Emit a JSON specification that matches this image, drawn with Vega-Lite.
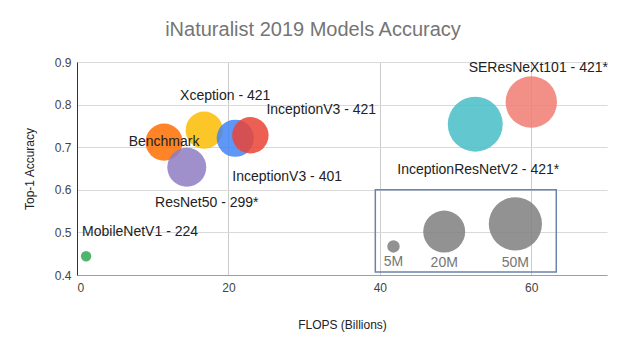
{
  "$schema": "https://vega.github.io/schema/vega-lite/v6.json",
  "width": 530,
  "height": 213,
  "autosize": {"type": "none"},
  "padding": {"left": 77, "top": 62, "right": 17, "bottom": 69},
  "background": "white",
  "config": {
    "font": "Liberation Sans",
    "view": {"stroke": null}
  },
  "title": {
    "text": "iNaturalist 2019 Models Accuracy",
    "fontSize": 20,
    "fontWeight": "normal",
    "color": "#757575",
    "font": "Liberation Sans",
    "anchor": "middle",
    "dx": -29,
    "baseline": "alphabetic",
    "offset": 0
  },
  "datasets": {
    "models": [
      {"name": "Benchmark", "flops": 11.5, "acc": 0.712, "params": 14.4},
      {"name": "Xception - 421", "flops": 16.8, "acc": 0.740, "params": 14.4},
      {"name": "ResNet50 - 299*", "flops": 14.5, "acc": 0.653, "params": 16.2},
      {"name": "InceptionV3 - 401", "flops": 20.9, "acc": 0.721, "params": 14.4},
      {"name": "InceptionV3 - 421", "flops": 22.9, "acc": 0.728, "params": 13.7},
      {"name": "InceptionResNetV2 - 421*", "flops": 52.6, "acc": 0.754, "params": 59.0},
      {"name": "SEResNeXt101 - 421*", "flops": 60.0, "acc": 0.806, "params": 42.6},
      {"name": "MobileNetV1 - 224", "flops": 1.2, "acc": 0.444, "params": 4.8}
    ],
    "sizes": [
      {"label": "5M", "flops": 41.8, "acc": 0.467, "params": 5},
      {"label": "20M", "flops": 48.5, "acc": 0.502, "params": 20},
      {"label": "50M", "flops": 57.9, "acc": 0.520, "params": 50}
    ],
    "box": [
      {"x0": 39.4, "x1": 63.3, "y0": 0.407, "y1": 0.6}
    ]
  },
  "layer": [
    {
      "data": {"name": "box"},
      "mark": {"type": "rect", "fill": null, "stroke": "#6b83ad", "strokeWidth": 1.5},
      "encoding": {
        "x": {
          "field": "x0", "type": "quantitative",
          "scale": {"domain": [0, 70], "nice": false, "zero": false},
          "axis": {
            "values": [0, 20, 40, 60],
            "title": "FLOPS (Billions)",
            "titleFontSize": 12,
            "titleFontWeight": "normal",
            "titleColor": "#222222",
            "titlePadding": 26,
            "labelFontSize": 12,
            "labelColor": "#444444",
            "labelPadding": 7,
            "ticks": false,
            "domainColor": "#9e9e9e",
            "gridColor": "#cccccc",
            "grid": true
          }
        },
        "x2": {"field": "x1"},
        "y": {
          "field": "y0", "type": "quantitative",
          "scale": {"domain": [0.4, 0.9], "nice": false, "zero": false},
          "axis": {
            "values": [0.4, 0.45, 0.5, 0.55, 0.6, 0.65, 0.7, 0.75, 0.8, 0.85, 0.9],
            "labelExpr": "round(datum.value * 100) % 10 == 0 ? format(datum.value, '.1f') : ''",
            "title": "Top-1 Accuracy",
            "titleFontSize": 12,
            "titleFontWeight": "normal",
            "titleColor": "#222222",
            "titlePadding": 18,
            "labelFontSize": 12,
            "labelColor": "#444444",
            "labelPadding": 6,
            "ticks": false,
            "domainColor": "#333333",
            "gridColor": "#d9d9d9",
            "grid": true
          }
        },
        "y2": {"field": "y1"}
      }
    },
    {
      "data": {"name": "sizes"},
      "mark": {"type": "circle", "color": "#7f7f7f", "opacity": 0.85},
      "encoding": {
        "x": {"field": "flops", "type": "quantitative"},
        "y": {"field": "acc", "type": "quantitative"},
        "size": {
          "field": "params", "type": "quantitative",
          "scale": {"type": "log", "domain": [5, 50], "range": [154, 2827], "clamp": false},
          "legend": null
        }
      }
    },
    {
      "data": {"name": "models"},
      "mark": {"type": "circle", "opacity": 0.85},
      "encoding": {
        "x": {"field": "flops", "type": "quantitative"},
        "y": {"field": "acc", "type": "quantitative"},
        "size": {"field": "params", "type": "quantitative", "legend": null},
        "color": {
          "field": "name", "type": "nominal", "legend": null,
          "scale": {
            "domain": ["Benchmark", "Xception - 421", "ResNet50 - 299*", "InceptionV3 - 401", "InceptionV3 - 421", "InceptionResNetV2 - 421*", "SEResNeXt101 - 421*", "MobileNetV1 - 224"],
            "range": ["#ff6d01", "#fbbc04", "#8e7cc3", "#4285f4", "#ea4335", "#46bdc6", "#f07b72", "#34a853"]
          }
        }
      }
    },
    {
      "data": {"name": "models"},
      "transform": [{"filter": "datum.name == 'Benchmark'"}],
      "mark": {"type": "text", "fontSize": 14, "color": "#222222", "align": "center", "baseline": "middle", "dx": 0, "dy": 0},
      "encoding": {"x": {"field": "flops", "type": "quantitative"}, "y": {"field": "acc", "type": "quantitative"}, "text": {"field": "name"}}
    },
    {
      "data": {"name": "models"},
      "transform": [{"filter": "datum.name == 'Xception - 421'"}],
      "mark": {"type": "text", "fontSize": 14, "color": "#222222", "align": "center", "baseline": "middle", "dx": 21, "dy": -34},
      "encoding": {"x": {"field": "flops", "type": "quantitative"}, "y": {"field": "acc", "type": "quantitative"}, "text": {"field": "name"}}
    },
    {
      "data": {"name": "models"},
      "transform": [{"filter": "datum.name == 'ResNet50 - 299*'"}],
      "mark": {"type": "text", "fontSize": 14, "color": "#222222", "align": "center", "baseline": "middle", "dx": 20, "dy": 36},
      "encoding": {"x": {"field": "flops", "type": "quantitative"}, "y": {"field": "acc", "type": "quantitative"}, "text": {"field": "name"}}
    },
    {
      "data": {"name": "models"},
      "transform": [{"filter": "datum.name == 'InceptionV3 - 401'"}],
      "mark": {"type": "text", "fontSize": 14, "color": "#222222", "align": "left", "baseline": "middle", "dx": -3, "dy": 39},
      "encoding": {"x": {"field": "flops", "type": "quantitative"}, "y": {"field": "acc", "type": "quantitative"}, "text": {"field": "name"}}
    },
    {
      "data": {"name": "models"},
      "transform": [{"filter": "datum.name == 'InceptionV3 - 421'"}],
      "mark": {"type": "text", "fontSize": 14, "color": "#222222", "align": "left", "baseline": "middle", "dx": 16, "dy": -25},
      "encoding": {"x": {"field": "flops", "type": "quantitative"}, "y": {"field": "acc", "type": "quantitative"}, "text": {"field": "name"}}
    },
    {
      "data": {"name": "models"},
      "transform": [{"filter": "datum.name == 'InceptionResNetV2 - 421*'"}],
      "mark": {"type": "text", "fontSize": 14, "color": "#222222", "align": "center", "baseline": "middle", "dx": 3, "dy": 46},
      "encoding": {"x": {"field": "flops", "type": "quantitative"}, "y": {"field": "acc", "type": "quantitative"}, "text": {"field": "name"}}
    },
    {
      "data": {"name": "models"},
      "transform": [{"filter": "datum.name == 'SEResNeXt101 - 421*'"}],
      "mark": {"type": "text", "fontSize": 14, "color": "#222222", "align": "center", "baseline": "middle", "dx": 7, "dy": -34},
      "encoding": {"x": {"field": "flops", "type": "quantitative"}, "y": {"field": "acc", "type": "quantitative"}, "text": {"field": "name"}}
    },
    {
      "data": {"name": "models"},
      "transform": [{"filter": "datum.name == 'MobileNetV1 - 224'"}],
      "mark": {"type": "text", "fontSize": 14, "color": "#222222", "align": "left", "baseline": "middle", "dx": -4, "dy": -24},
      "encoding": {"x": {"field": "flops", "type": "quantitative"}, "y": {"field": "acc", "type": "quantitative"}, "text": {"field": "name"}}
    },
    {
      "data": {"name": "sizes"},
      "transform": [{"filter": "datum.label == '5M'"}],
      "mark": {"type": "text", "fontSize": 14, "color": "#757575", "align": "center", "baseline": "middle", "dy": 16},
      "encoding": {"x": {"field": "flops", "type": "quantitative"}, "y": {"field": "acc", "type": "quantitative"}, "text": {"field": "label"}}
    },
    {
      "data": {"name": "sizes"},
      "transform": [{"filter": "datum.label == '20M'"}],
      "mark": {"type": "text", "fontSize": 14, "color": "#757575", "align": "center", "baseline": "middle", "dy": 31},
      "encoding": {"x": {"field": "flops", "type": "quantitative"}, "y": {"field": "acc", "type": "quantitative"}, "text": {"field": "label"}}
    },
    {
      "data": {"name": "sizes"},
      "transform": [{"filter": "datum.label == '50M'"}],
      "mark": {"type": "text", "fontSize": 14, "color": "#757575", "align": "center", "baseline": "middle", "dy": 39},
      "encoding": {"x": {"field": "flops", "type": "quantitative"}, "y": {"field": "acc", "type": "quantitative"}, "text": {"field": "label"}}
    }
  ]
}
